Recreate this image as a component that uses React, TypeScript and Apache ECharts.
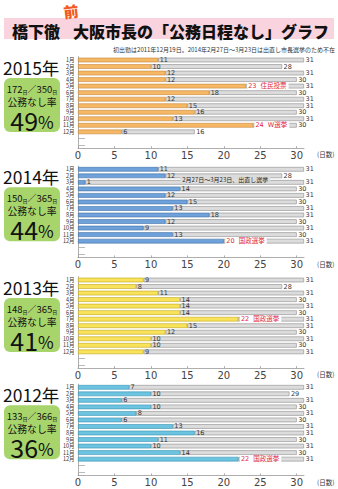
import React, { useEffect, useRef } from 'react';
import * as echarts from 'echarts';

const months = ['1月', '2月', '3月', '4月', '5月', '6月', '7月', '8月', '9月', '10月', '11月', '12月'];
const emptyRows = ['', ' '];
const xTicks = [0, 5, 10, 15, 20, 25, 30];

const years = ['2015年', '2014年', '2013年', '2012年'];

const off2015 = [11, 10, 12, 12, 23, 18, 12, 15, 16, 13, 24, 6];
const days2015 = [31, 28, 31, 30, 31, 30, 31, 31, 30, 31, 30, 16];
const notes2015: Record<number, string> = { 4: '住民投票', 10: 'W選挙' };

const off2014 = [11, 12, 1, 14, 12, 15, 13, 18, 12, 9, 13, 20];
const days2014 = [31, 28, 31, 30, 31, 30, 31, 31, 30, 31, 30, 31];
const notes2014: Record<number, string> = { 11: '国政選挙' };

const off2013 = [9, 8, 11, 14, 14, 14, 22, 15, 12, 10, 10, 9];
const days2013 = [31, 28, 31, 30, 31, 30, 31, 31, 30, 31, 30, 31];
const notes2013: Record<number, string> = { 6: '国政選挙' };

const off2012 = [7, 10, 6, 10, 8, 6, 13, 16, 11, 10, 14, 22];
const days2012 = [31, 29, 31, 30, 31, 30, 31, 31, 30, 31, 30, 31];
const notes2012: Record<number, string> = { 11: '国政選挙' };

const offTotals = [172, 150, 148, 133];
const dayTotals = [350, 365, 365, 366];
const rates = ['49', '44', '41', '36'];

const title1 = '橋下徹';
const title2 = '大阪市長の「公務日程なし」グラフ';
const titleMark = '前';
const subtitle = '初出勤は2011年12月19日。2014年2月27日～3月23日は出直し市長選挙のため不在';
const absenceNote = '2月27日～3月23日、出直し選挙';

const FONT_JP = '"Noto Sans CJK JP", "Noto Sans", sans-serif';
const FONT_NUM = '"DejaVu Sans", "Noto Sans CJK JP", sans-serif';

const panelData = [
  { off: off2015, days: days2015, notes: notes2015, color: '#f6b865', border: '#c4873a' },
  { off: off2014, days: days2014, notes: notes2014, color: '#6fa2da', border: '#3f6fa6' },
  { off: off2013, days: days2013, notes: notes2013, color: '#f9e35a', border: '#bfa41a' },
  { off: off2012, days: days2012, notes: notes2012, color: '#6cc4e0', border: '#3590b0' },
];

// layout (row centre of 1月 for each panel)
const panelY = [60, 169.3, 280, 387.3];
const ROW = 6.53;
const GRID_LEFT = 78;
const UNIT = 7.29;
const X_MAX = 31;

export default function App() {
  const ref = useRef<HTMLDivElement>(null);

  useEffect(() => {
    if (!ref.current) return;
    const chart = echarts.init(ref.current, null, { renderer: 'svg' });
    const cats = [...months, ...emptyRows];

    const grids: any[] = [];
    const xAxes: any[] = [];
    const yAxes: any[] = [];
    const series: any[] = [];
    const graphics: any[] = [];

    graphics.push(
      { type: 'rect', shape: { x: 4, y: 18, width: 330, height: 21 }, style: { fill: '#f9d4de' } },
      {
        type: 'text', x: 12, y: 30.5,
        style: { text: title1, fontSize: 16, fontWeight: 900, fontFamily: FONT_JP, fill: '#111', verticalAlign: 'middle' },
      },
      {
        type: 'text', x: 73, y: 30.5,
        style: { text: title2, fontSize: 16, fontWeight: 900, fontFamily: FONT_JP, fill: '#111', verticalAlign: 'middle' },
      },
      {
        type: 'text', x: 71, y: 11, rotation: 0.12,
        style: { text: titleMark, fontSize: 15, fontWeight: 900, fontFamily: FONT_JP, fill: '#f05a22', align: 'center', verticalAlign: 'middle' },
      },
      {
        type: 'text', x: 335, y: 49,
        style: { text: subtitle, fontSize: 6, fontFamily: FONT_JP, fill: '#333', align: 'right', verticalAlign: 'middle' },
      }
    );

    panelData.forEach((p, k) => {
      const P = panelY[k];
      const top = P - ROW / 2;
      grids.push({ left: GRID_LEFT, top, width: UNIT * X_MAX, height: ROW * cats.length });
      xAxes.push({
        type: 'value', gridIndex: k, min: 0, max: X_MAX, interval: 5,
        name: '(日数)', nameLocation: 'end', nameGap: 13,
        nameTextStyle: { fontSize: 6.5, fontFamily: FONT_JP, color: '#333', verticalAlign: 'top', padding: [3, 0, 0, 0] },
        axisLine: { show: true, lineStyle: { color: '#999', width: 0.8 } },
        axisTick: { show: true, inside: true, length: 2, lineStyle: { color: '#999', width: 0.8 } },
        splitLine: { show: false },
        axisLabel: {
          margin: 2, fontSize: 10, fontFamily: FONT_NUM, color: '#444', showMaxLabel: false,
          formatter: (v: number) => (xTicks.includes(v) ? String(v) : ''),
        },
      });
      yAxes.push({
        type: 'category', gridIndex: k, data: cats, inverse: true,
        axisLine: { show: true, lineStyle: { color: '#999', width: 0.8 } },
        axisTick: {
          show: true, inside: true, length: 7, alignWithLabel: true,
          interval: (i: number) => i >= months.length,
          lineStyle: { color: '#aaa', width: 0.8 },
        },
        axisLabel: { margin: 3.5, fontSize: 5.5, fontFamily: FONT_JP, color: '#333', interval: 0 },
      });

      series.push({
        type: 'bar', xAxisIndex: k, yAxisIndex: k, stack: 's' + k, barWidth: 4.6, z: 3, silent: true,
        itemStyle: { color: p.color, borderColor: p.border, borderWidth: 0.6 },
        label: { show: true, position: 'right', distance: 1.5, fontSize: 6.5, fontFamily: FONT_NUM, color: '#333' },
        data: p.off.map((v, i) =>
          p.notes[i]
            ? {
                value: v,
                label: {
                  formatter: `${v}  ${p.notes[i]}`, color: '#e0263d', backgroundColor: '#fff',
                  padding: [1, 2, 0, 1], fontFamily: FONT_NUM,
                },
              }
            : v
        ),
      });
      series.push({
        type: 'bar', xAxisIndex: k, yAxisIndex: k, stack: 's' + k, barWidth: 4.6, z: 2, silent: true,
        itemStyle: { color: '#dcdcdc', borderColor: '#8c8c8c', borderWidth: 0.6 },
        label: {
          show: true, position: 'right', distance: 1.5, fontSize: 6.5, fontFamily: FONT_NUM, color: '#333',
          formatter: (prm: any) => String(p.days[prm.dataIndex]),
        },
        data: p.days.map((d, i) => d - p.off[i]),
      });

      // left side texts
      graphics.push(
        {
          type: 'text', x: 3, y: P + 7,
          style: { text: years[k], fontSize: 17.5, fontWeight: 400, fontFamily: FONT_JP, fill: '#111', verticalAlign: 'middle' },
        },
        { type: 'rect', shape: { x: 4, y: P + 18, width: 56, height: 54, r: 6 }, style: { fill: '#a8d46c' } },
        {
          type: 'text', x: 32, y: P + 28.5,
          style: {
            text: `{a|${offTotals[k]}}{b|日}{c|／}{a|${dayTotals[k]}}{b|日}`,
            align: 'center', verticalAlign: 'middle',
            rich: {
              a: { fontSize: 9.5, fontFamily: FONT_JP, fill: '#111', lineHeight: 10 },
              b: { fontSize: 5, fontFamily: FONT_JP, fill: '#111', verticalAlign: 'bottom', lineHeight: 8 },
              c: { fontSize: 9, fontFamily: FONT_JP, fill: '#111', lineHeight: 10 },
            },
          },
        },
        {
          type: 'text', x: 32, y: P + 41.8,
          style: { text: '公務なし率', fontSize: 9.8, fontFamily: FONT_JP, fill: '#111', align: 'center', verticalAlign: 'middle', lineHeight: 10 },
        },
        {
          type: 'text', x: 32, y: P + 59.5,
          style: {
            text: `{n|${rates[k]}}{p|%}`,
            align: 'center', verticalAlign: 'middle',
            rich: {
              n: { fontSize: 25, fontFamily: FONT_JP, fill: '#111', lineHeight: 20 },
              p: { fontSize: 17, fontFamily: FONT_JP, fill: '#111', verticalAlign: 'bottom', lineHeight: 16 },
            },
          },
        }
      );
    });

    // 2014 absence annotation between 2月 and 3月
    graphics.push({
      type: 'text', x: GRID_LEFT + 20.2 * UNIT, y: panelY[1] + 1.5 * ROW,
      z: 10,
      style: {
        text: absenceNote, fontSize: 6, fontFamily: FONT_JP, fill: '#222', align: 'center', verticalAlign: 'middle',
        backgroundColor: '#dcdcdc', padding: [0, 2],
      },
    });

    chart.setOption({
      animation: false,
      backgroundColor: '#fff',
      grid: grids,
      xAxis: xAxes,
      yAxis: yAxes,
      series,
      graphic: { elements: graphics },
    });
    return () => chart.dispose();
  }, []);

  return <div ref={ref} style={{ position: 'fixed', left: 0, top: 0, width: 338, height: 489 }} />;
}
